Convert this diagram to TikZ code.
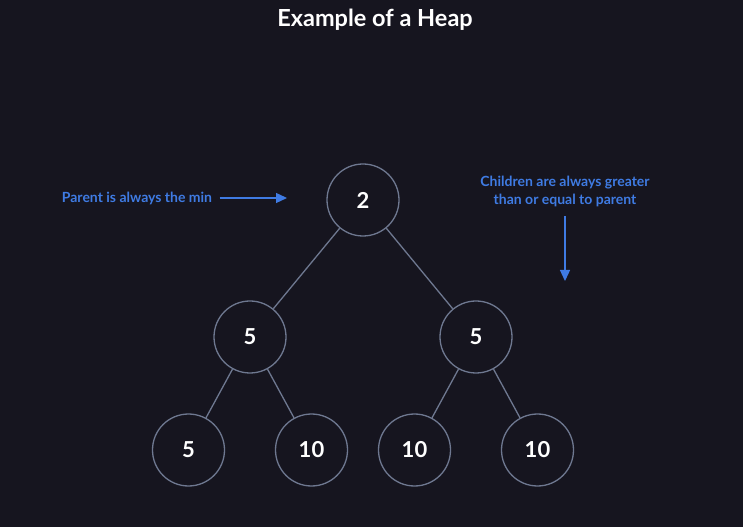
\documentclass[tikz,border=0pt]{standalone}
\usepackage{fontspec}
\setmainfont{Lato}
\usetikzlibrary{arrows.meta}
\definecolor{bgcol}{HTML}{16151F}
\definecolor{edgecol}{HTML}{6E7890}
\definecolor{notecol}{HTML}{3F7BE3}
\begin{document}
\begin{tikzpicture}[
        x=1pt, y=1pt,
        grow=south, % Дерево растет сверху вниз
        level 1/.style = {level distance=137pt, sibling distance=226pt},
        level 2/.style = {level distance=113pt, sibling distance=123pt},
        edge from parent/.style = {draw=edgecol, line width=1.3pt},
        cell/.style={circle, draw=edgecol, line width=1.3pt, minimum size=72pt, inner sep=0pt,
            text=white, font=\fontsize{22}{26}\selectfont\bfseries}, % Стиль узлов
        note/.style={text=notecol, align=center, font=\fontsize{14}{18}\selectfont\bfseries},
        pointer/.style={draw=notecol, line width=1.3pt, -{Triangle[length=11pt, width=10pt]}},
    ]

    \fill[bgcol] (0,0) rectangle (743,527);
    \useasboundingbox (0,0) rectangle (743,527);

    \node[text=white, font=\fontsize{23.5}{28}\selectfont\bfseries] (title) at (375,507) {Example of a Heap};

    \node[cell] (root) at (363,327) {2}
    child {node[cell] (l) {5}
            child {node[cell] (ll) {5}}
            child {node[cell] (lr) {10}}}
    child {node[cell] (r) {5}
            child {node[cell] (rl) {10}}
            child {node[cell] (rr) {10}}};

    % Пояснения
    \node[note] (minnote) at (137,329) {Parent is always the min};
    \coordinate (minend) at (287,329);
    \draw[pointer] ([xshift=4pt]minnote.east) -- (minend);

    \node[note] (childnote) at (565,336) {Children are always greater\\than or equal to parent};
    \coordinate (childend) at (565,246);
    \draw[pointer] ([yshift=-6pt]childnote.south) -- (childend);
\end{tikzpicture}
\end{document}
